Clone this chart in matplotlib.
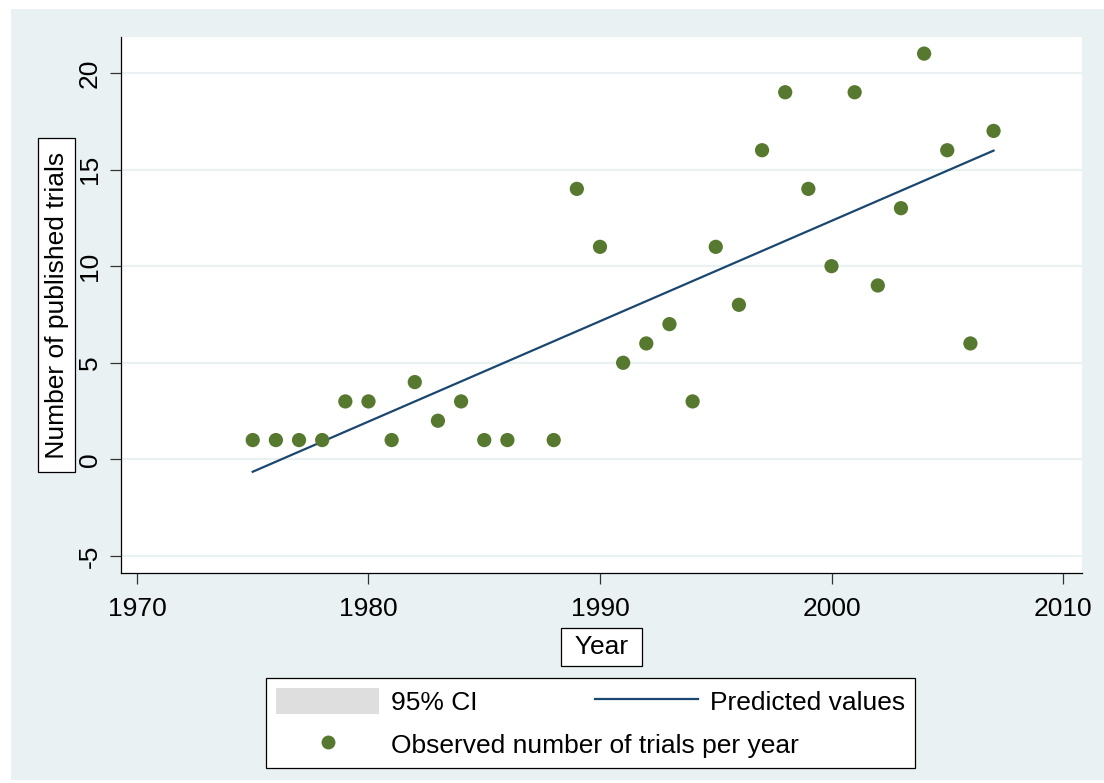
import matplotlib
matplotlib.use("Agg")
import matplotlib.pyplot as plt
from matplotlib.patches import Rectangle, Patch
from matplotlib.lines import Line2D

plt.rcParams['font.family'] = ['Liberation Sans', 'DejaVu Sans']
plt.rcParams['axes.unicode_minus'] = False

# observed trials per year
years = [1975, 1976, 1977, 1978, 1979, 1980, 1981, 1982, 1983, 1984, 1985, 1986,
         1988, 1989, 1990, 1991, 1992, 1993, 1994, 1995, 1996, 1997, 1998, 1999,
         2000, 2001, 2002, 2003, 2004, 2005, 2006, 2007]
trials = [1, 1, 1, 1, 3, 3, 1, 4, 2, 3, 1, 1,
          1, 14, 11, 5, 6, 7, 3, 11, 8, 16, 19, 14,
          10, 19, 9, 13, 21, 16, 6, 17]

# fitted line (at its ends)
fit_years = [1975, 2007]
fit_values = [-0.64, 15.98]

x_ticks = [1970, 1980, 1990, 2000, 2010]
y_ticks = [-5, 0, 5, 10, 15, 20]

BG = '#E9F1F3'
GREEN = '#56782F'
NAVY = '#1A476F'
FS = 19

fig = plt.figure(figsize=(11.04, 7.83), dpi=100, facecolor='white')
# stata-like graph region
fig.patches.append(Rectangle((11 / 1104, 3 / 783), 1 - 11 / 1104, 1 - 12 / 783,
                             transform=fig.transFigure, facecolor=BG,
                             edgecolor='none', zorder=-5))

ax = fig.add_axes([121 / 1104, 1 - 573 / 783, (1082 - 121) / 1104, (573 - 37) / 783])
ax.set_facecolor('white')

ax.plot(fit_years, fit_values, color=NAVY, lw=1.6, zorder=3)
ax.scatter(years, trials, s=105, color=GREEN, edgecolor='none', zorder=4)

ax.set_xlim(1969.31, 2010.82)
ax.set_ylim(-5.88, 21.86)
ax.set_xticks(x_ticks)
ax.set_yticks(y_ticks)
ax.yaxis.grid(True, color=BG, lw=1.6)
ax.set_axisbelow(True)

for s in ['top', 'right']:
    ax.spines[s].set_visible(False)
for s in ['left', 'bottom']:
    ax.spines[s].set_linewidth(0.9)
    ax.spines[s].set_color('black')

ax.tick_params(axis='both', direction='out', length=8, width=0.9,
               labelsize=FS, color='#333333', pad=6)
ax.tick_params(axis='x', pad=9)
for lab in ax.get_yticklabels():
    lab.set_rotation(90)
    lab.set_va('center')

box = dict(facecolor='white', edgecolor='black', linewidth=0.9, boxstyle='square,pad=0.25')
ax.set_ylabel(' Number of published trials ', fontsize=FS, bbox=box)
ax.yaxis.label.set_va('center')
ax.yaxis.set_label_coords(-0.067, 0.5)
ax.set_xlabel(' Year ', fontsize=FS, bbox=box)
ax.xaxis.label.set_va('center')
ax.xaxis.set_label_coords(0.5, -0.138)

handles = [
    Patch(facecolor='#DEDEDE', edgecolor='none', label='95% CI'),
    Line2D([], [], color=NAVY, lw=1.6, label='Predicted values'),
    Line2D([], [], color=GREEN, marker='o', markersize=10, linestyle='none',
           markeredgecolor='none', label='Observed number of trials per year'),
]
# column-major order: col 1 -> CI, observed ; col 2 -> predicted
order = [handles[0], handles[2], handles[1]]
leg = fig.legend(order, [h.get_label() for h in order],
                 ncol=2, loc='center', bbox_to_anchor=(0.5349, 0.0766),
                 fontsize=FS, frameon=True, fancybox=False, framealpha=1,
                 edgecolor='black', facecolor='white',
                 handlelength=3.9, handleheight=1.1, handletextpad=0.45,
                 labelspacing=0.6, borderpad=0.4, columnspacing=-7.73,
                 borderaxespad=0)
leg.get_frame().set_linewidth(0.9)

fig.savefig('out.png', dpi=100, facecolor=fig.get_facecolor())
